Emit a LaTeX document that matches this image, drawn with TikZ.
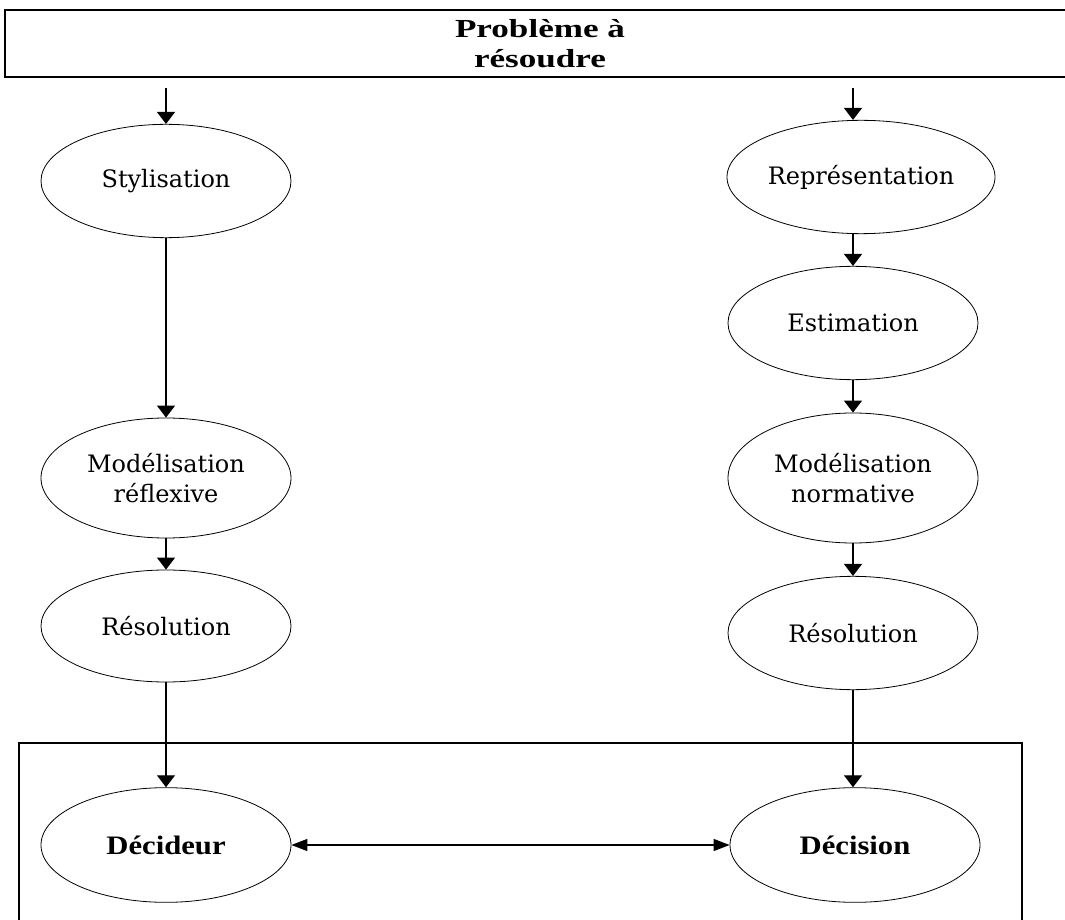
\documentclass[tikz,border=0pt]{standalone}
\usepackage{fontspec}
\setmainfont{DejaVu Serif}
\newfontfamily\gras[FakeStretch=1.15]{Liberation Serif}
\newfontfamily\titre[FakeStretch=1.35]{Liberation Serif}
\usetikzlibrary{shapes.geometric,arrows.meta}
\begin{document}
\begin{tikzpicture}[x=0.75pt,y=-0.75pt,
  etape/.style={ellipse, draw=black, line width=0.6pt, minimum width=187.5pt, minimum height=85pt, inner sep=0pt, align=center, font=\fontsize{18}{22.5}\selectfont},
  acteur/.style={ellipse, draw=black, line width=0.6pt, minimum width=187.5pt, minimum height=86pt, inner sep=0pt, font=\gras\bfseries\fontsize{20}{22}\selectfont},
  fleche/.style={-{Triangle[length=9pt,width=13.5pt]}, line width=1pt},
  double fleche/.style={{Triangle[length=12pt,width=9pt]}-{Triangle[length=12pt,width=9pt]}, line width=1pt}]
\useasboundingbox (0,0) rectangle (1065,920);
\node [draw=black, line width=1.2pt, minimum width=802.5pt, minimum height=50.25pt, align=center, font=\titre\bfseries\fontsize{19.5}{23}\selectfont] (probleme) at (540,43.5) {Problème à\\résoudre};
\draw [line width=0.8pt] (19,743) rectangle (1022,935);
\coordinate (departG) at (166,88);
\coordinate (departD) at (853,88);
\node [etape] (styl) at (166,181) {Stylisation};
\node [etape, minimum height=90pt] (modref) at (166,478) {Modélisation\\réflexive};
\node [etape, minimum height=84pt] (resG) at (166,626) {Résolution};
\node [etape, minimum width=201pt] (repr) at (861,177) {Représentation};
\node [etape] (estim) at (853,323) {Estimation};
\node [etape, minimum height=97.5pt] (modnorm) at (853,478) {Modélisation\\normative};
\node [etape] (resD) at (853,633) {Résolution};
\node [acteur] (decideur) at (166,845) {Décideur};
\node [acteur] (decision) at (855,845) {Décision};
\draw [fleche] (departG) -- (styl);
\draw [fleche] (departD) -- (departD |- repr.north);
\draw [fleche] (styl) -- (modref);
\draw [fleche] (modref) -- (resG);
\draw [fleche] (resG) -- (decideur);
\draw [fleche] (repr.south -| estim.north) -- (estim);
\draw [fleche] (estim) -- (modnorm);
\draw [fleche] (modnorm) -- (resD);
\draw [fleche] (resD.south) -- (resD.south |- decision.north);
\draw [double fleche] (decideur) -- (decision);
\end{tikzpicture}
\end{document}
